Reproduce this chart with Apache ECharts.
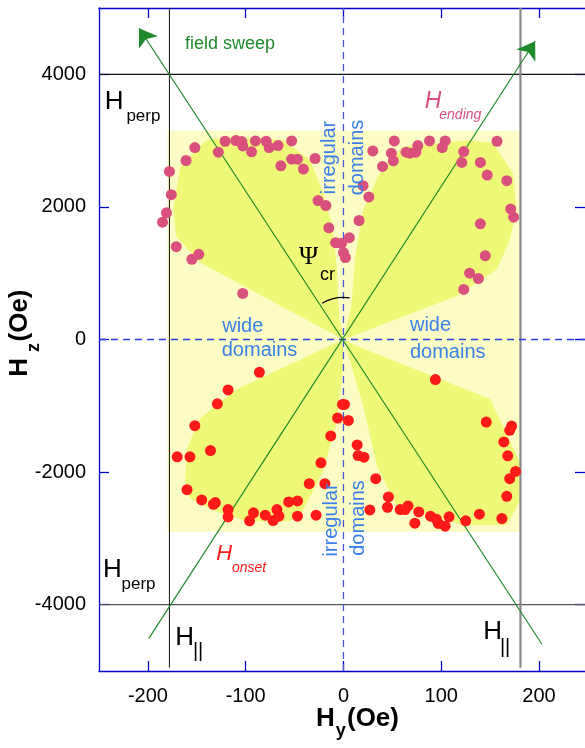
<!DOCTYPE html>
<html><head><meta charset="utf-8">
<script src="https://cdn.jsdelivr.net/npm/echarts@6/dist/echarts.min.js"></script>
<style>html,body{margin:0;padding:0;background:#fff}#c{width:585px;height:748px}</style>
</head><body><div id="c"></div><script>
// ---- data ----
const xTicks = [-200, -100, 0, 100, 200];
const yTicks = [-4000, -2000, 0, 2000, 4000];
const hEnding = [[-185,1770],[-181,1910],[-176,2185],[-178,2535],[-171,1400],[-161,2700],[-152,2895],[-155,1210],[-148,1285],[-128,2825],[-121,2990],[-110,3000],[-104,2985],[-103,2920],[-94,2830],[-90,2995],[-79,2990],[-76,2895],[-67,2925],[-64,2620],[-53,2995],[-53,2720],[-47,2720],[-41,2570],[-29,2730],[-26,2095],[-18,2020],[-15,1685],[-8,1460],[-2,1450],[6,1535],[0,1310],[2,1235],[-103,695],
[52,2995],[30,2845],[49,2810],[51,2695],[40,2610],[64,2825],[68,2810],[74,2825],[76,2925],[88,2995],[104,2995],[101,2895],[123,2835],[121,2670],[140,2670],[147,2480],[157,2990],[167,2395],[171,1970],[174,1845],[140,1745],[145,1265],[129,1000],[138,920],[123,755],[20,2320],[26,2150],[16,1795]];
const hOnset = [[-86,-495],[-118,-760],[-129,-970],[-152,-1300],[-170,-1770],[-157,-1770],[-136,-1675],[-160,-2265],[-145,-2420],[-133,-2485],[-131,-2460],[-118,-2565],[-118,-2675],[-96,-2735],[-92,-2615],[-80,-2650],[-72,-2730],[-68,-2565],[-66,-2665],[-56,-2450],[-47,-2435],[-47,-2665],[-28,-2650],[-35,-2175],[-19,-2175],[-23,-1860],[-13,-1455],[-6,-1185],[-1,-980],[1,-980],[5,-1220],
[94,-605],[146,-1245],[172,-1305],[170,-1370],[164,-1545],[168,-1755],[176,-1990],[170,-2100],[167,-2365],[162,-2700],[139,-2635],[125,-2735],[108,-2675],[104,-2815],[97,-2775],[95,-2710],[89,-2665],[77,-2600],[73,-2770],[66,-2510],[63,-2565],[58,-2565],[45,-2530],[46,-2375],[33,-2100],[27,-2570],[21,-1775],[15,-1750],[14,-1590]];
const perpFields = [4000, -4000];
const parFields = [-178, 181];
const sweepArrows = [[[203,-4597],[-209,4694]], [[-199,-4507],[196,4498]]];
const wideBox = [[-180,3150],[180,3150],[180,-2900],[-180,-2900]];
const lobeUL = [[0,0],[-147,1160],[-171,1556],[-174,1956],[-167,2607],[-140,3008],[-116,3057],[-62,3008],[-34,2707],[-21,2212],[-11,1706],[-7,1105],[-4,305]];
const lobeUR = [[0,0],[8,500],[12,1244],[20,1953],[37,2512],[61,2907],[129,3005],[153,2962],[173,2512],[177,1957],[170,1506],[157,1055],[116,655]];
const lobeLL = [[0,0],[-109,-746],[-147,-1197],[-160,-1647],[-162,-2142],[-157,-2398],[-130,-2593],[-99,-2743],[-55,-2743],[-42,-2593],[-21,-1992],[-7,-1242],[-1,-490]];
const lobeLR = [[0,0],[13,-96],[150,-896],[180,-1842],[180,-2443],[167,-2799],[122,-2799],[54,-2498],[34,-1898],[20,-997],[6,-296]];
const psiArc = {center:[0,0]};

// ---- annotations (anchored in data units) ----
const SANS = '"Liberation Sans", Arial, sans-serif';
const BLUE = '#3b80ea', GREEN = '#1f8a2a', PINK = '#d9507c', RED = '#ff1a1a';
const notes = [
  {t:'field sweep', x:-162, y:4461, font:'18px '+SANS, c:GREEN},
  {t:'H', x:-244, y:3582, font:'26px '+SANS, c:'#000'},
  {t:'perp', x:-222, y:3368, font:'17px '+SANS, c:'#000'},
  {t:'H', x:-246, y:-3477, font:'26px '+SANS, c:'#000'},
  {t:'perp', x:-227, y:-3695, font:'17px '+SANS, c:'#000'},
  {t:'H', x:-172, y:-4502, font:'26px '+SANS, c:'#000'},
  {t:'||', x:-154, y:-4713, font:'20px '+SANS, c:'#000'},
  {t:'H', x:143, y:-4412, font:'26px '+SANS, c:'#000'},
  {t:'||', x:160, y:-4638, font:'20px '+SANS, c:'#000'},
  {t:'H', x:83, y:3587, font:'italic 23px '+SANS, c:PINK},
  {t:'ending', x:98, y:3379, font:'italic 14px '+SANS, c:PINK},
  {t:'H', x:-130, y:-3238, font:'italic 22px '+SANS, c:RED},
  {t:'onset', x:-114, y:-3448, font:'italic 14px '+SANS, c:RED},
  {t:'\u03A8', x:-45.5, y:1240, font:'26px "Liberation Serif", "DejaVu Serif", serif', c:'#000'},
  {t:'cr', x:-24, y:967, font:'18px '+SANS, c:'#000'},
  {t:'wide', x:-124, y:189, font:'20px '+SANS, c:BLUE},
  {t:'domains', x:-124.5, y:-173, font:'20px '+SANS, c:BLUE},
  {t:'wide', x:68, y:204, font:'20px '+SANS, c:BLUE},
  {t:'domains', x:68, y:-189, font:'20px '+SANS, c:BLUE},
  {t:'irregular', x:-13.8, y:2745, font:'20px '+SANS, c:BLUE, a:'center', r:90},
  {t:'domains', x:14.8, y:2745, font:'20px '+SANS, c:BLUE, a:'center', r:90},
  {t:'irregular', x:-11.8, y:-2721, font:'20px '+SANS, c:BLUE, a:'center', r:90},
  {t:'domains', x:15.8, y:-2692, font:'20px '+SANS, c:BLUE, a:'center', r:90},
  // axis titles
  {t:'H', x:-28, y:-5724, font:'bold 26px '+SANS, c:'#000'},
  {t:'y', x:-8, y:-5905, font:'bold 18px '+SANS, c:'#000'},
  {t:'(Oe)', x:3.6, y:-5724, font:'bold 26px '+SANS, c:'#000'},
  {t:'H', x:-331, y:-560, font:'bold 26px '+SANS, c:'#000', r:90},
  {t:'z', x:-316, y:-190, font:'bold 18px '+SANS, c:'#000', r:90},
  {t:'(Oe)', x:-331, y:-30, font:'bold 26px '+SANS, c:'#000', r:90}
];

const AX = '#0000cc';
const chart = echarts.init(document.getElementById('c'), null, {renderer:'canvas'});
const axisCommon = (pos, showLabel, ticks) => ({
  type:'value', position:pos,
  axisLine:{show:true, onZero:false, lineStyle:{color:AX, width:1.3}},
  axisTick:{show:true, inside:true, length:10, customValues:ticks, lineStyle:{color:AX, width:1.3}},
  axisLabel:{show:showLabel, customValues:ticks, color:'#000', fontSize:20, fontFamily:SANS,
    formatter:(v)=>String(v)},
  splitLine:{show:false}
});
const X_MIN = -250, X_MAX = 247;
const xA0 = Object.assign(axisCommon('bottom', true, xTicks), {min:X_MIN, max:X_MAX});
xA0.axisLabel.margin = 15;
const xA1 = Object.assign(axisCommon('top', false, xTicks), {min:X_MIN, max:X_MAX});
const yA0 = Object.assign(axisCommon('left', true, yTicks), {min:-5000, max:5000});
yA0.axisLabel.margin = 13;
const yA1 = Object.assign(axisCommon('right', false, yTicks), {min:-5000, max:5000});
yA1.axisLine.show = false;

const polys = [
  {pts:wideBox, fill:'#fbfdc4'},
  {pts:lobeUL, fill:'#eff978'},
  {pts:lobeUR, fill:'#eff978'},
  {pts:lobeLL, fill:'#eff978'},
  {pts:lobeLR, fill:'#eff978'}
];

const series = [];
series.push({
  type:'custom', name:'regions', silent:true, clip:false, z:1,
  data: polys.map((p,i)=>[p.pts[0][0], p.pts[0][1], i]),
  renderItem:(params, api)=>{
    const p = polys[params.dataIndex];
    return {type:'polygon', shape:{points:p.pts.map(q=>api.coord(q))}, style:{fill:p.fill, stroke:null}};
  }
});
perpFields.forEach((v,i)=>series.push({type:'line', silent:true, symbol:'none', z:3,
  data:[[X_MIN,v],[X_MAX,v]], lineStyle:{color: i===0?'#111':'#555', width:1.2}}));
parFields.forEach((v,i)=>series.push({type:'line', silent:true, symbol:'none', z:3,
  data:[[v,-4950],[v,5000]], lineStyle:{color: i===0?'#111':'#888', width: i===0?1:2.2}}));
series.push({type:'line', silent:true, symbol:'none', z:3, data:[[X_MIN,0],[X_MAX,0]],
  lineStyle:{color:'#2a3ddc', width:1.3, type:[7,5]}});
series.push({type:'line', silent:true, symbol:'none', z:3, data:[[0,-5000],[0,5000]],
  lineStyle:{color:'#4a55d8', width:1.3, type:[7,5]}});
series.push({type:'lines', coordinateSystem:'cartesian2d', silent:true, z:4,
  symbol:['none','arrow'], symbolSize:[11,17],
  data: sweepArrows.map(c=>({coords:c})),
  lineStyle:{color:GREEN, width:1.2, opacity:1}});
series.push({type:'custom', silent:true, clip:false, z:4, data:[[psiArc.center[0], psiArc.center[1]]],
  renderItem:(params, api)=>{
    const c = api.coord([api.value(0), api.value(1)]);
    return {type:'arc', shape:{cx:c[0], cy:c[1], r:42, startAngle:-120.5*Math.PI/180, endAngle:-81.5*Math.PI/180, clockwise:true},
      style:{stroke:'#000', fill:null, lineWidth:1.2}};
  }});
series.push({type:'scatter', name:'H ending', data:hEnding, symbolSize:11, z:5,
  itemStyle:{color:PINK, opacity:1}});
series.push({type:'scatter', name:'H onset', data:hOnset, symbolSize:11, z:5,
  itemStyle:{color:RED, opacity:1}});
series.push({type:'custom', silent:true, clip:false, z:6,
  data: notes.map((n,i)=>[n.x, n.y, i]),
  renderItem:(params, api)=>{
    const n = notes[params.dataIndex];
    const p = api.coord([api.value(0), api.value(1)]);
    return {type:'text', x:p[0], y:p[1], rotation:(n.r||0)*Math.PI/180,
      style:{text:n.t, font:n.font, fill:n.c, align:n.a||'left', verticalAlign:'middle'}};
  }});

chart.setOption({
  animation:false,
  backgroundColor:'#fff',
  grid:{left:99, right:0, top:8, height:663, containLabel:false},
  xAxis:[xA0, xA1],
  yAxis:[yA0, yA1],
  series
});
</script></body></html>
